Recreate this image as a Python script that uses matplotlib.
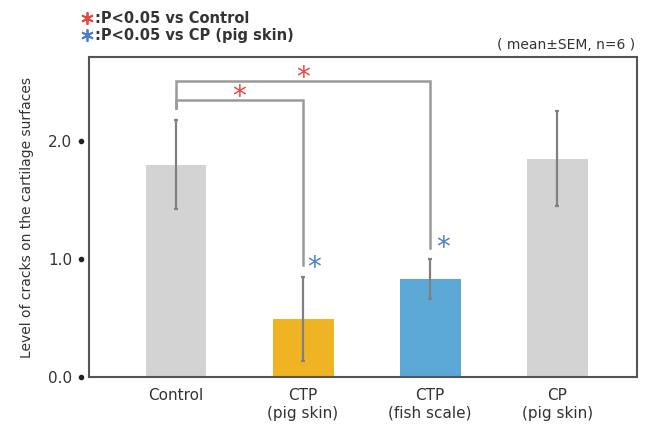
import numpy as np
import matplotlib
matplotlib.use('Agg')
import matplotlib.pyplot as plt
from matplotlib.lines import Line2D

plt.rcParams['font.family'] = ['DejaVu Sans']

groups = ['Control', 'CTP\n(pig skin)', 'CTP\n(fish scale)', 'CP\n(pig skin)']
means = [1.80, 0.49, 0.83, 1.85]
sems = [0.375, 0.355, 0.17, 0.40]
colors = ['#d3d3d3', '#f0b323', '#5ba8d7', '#d3d3d3']
yticks = [0.0, 1.0, 2.0]

# brackets: (from, to, height, left leg end, right leg end)
brackets = [(0, 1, 2.35, 2.28, 0.95), (0, 2, 2.51, 2.28, 1.09)]
red_marks = [(0.5, 2.37), (1.0, 2.535)]
blue_marks = [(1.09, 0.92), (2.10, 1.09)]

fig = plt.figure(figsize=(6.51, 4.26), dpi=100)
ax = fig.add_axes([0.1367, 0.115, 0.842, 0.751])

x = np.arange(len(groups))
ax.bar(x, means, width=0.48, color=colors, zorder=1)
ax.errorbar(x, means, yerr=sems, fmt='none', ecolor='#808080', elinewidth=1.6,
            capsize=1.5, capthick=1.6, zorder=2)

for a, b, h, l1, l2 in brackets:
    ax.plot([a, a, b, b], [l1, h, h, l2], color='#9a9a9a', lw=1.8, zorder=3,
            solid_joinstyle='miter')

for xx, yy in red_marks:
    ax.text(xx, yy, '*', color='#e8473f', fontsize=20, ha='center', va='center')
for xx, yy in blue_marks:
    ax.text(xx, yy, '*', color='#4a80c9', fontsize=20, ha='center', va='center')

ax.set_xlim(-0.685, 3.63)
ax.set_ylim(0, 2.71)
ax.set_xticks(x)
ax.set_xticklabels(groups, fontsize=11, color='#333333')
ax.set_yticks(yticks)
ax.set_yticklabels(['%.1f' % v for v in yticks], fontsize=11, color='#333333')
ax.tick_params(axis='both', length=0, pad=12)
ax.tick_params(axis='x', pad=8)
ax.plot([-0.015] * len(yticks), yticks, 'o', ms=3, color='#222222',
        transform=ax.get_yaxis_transform(), clip_on=False)
for s in ax.spines.values():
    s.set_color('#555555')
    s.set_linewidth(1.5)

ax.set_ylabel('Level of cracks on the cartilage surfaces', fontsize=10,
              color='#333333', labelpad=10)

# legend asterisks drawn as markers
for yy, c in [(0.957, '#e8473f'), (0.917, '#4a80c9')]:
    fig.add_artist(Line2D([0.134], [yy], marker=(6, 2, 0), ms=9, mew=1.3,
                          color=c, transform=fig.transFigure))
fig.text(0.146, 0.957, ':P<0.05 vs Control', fontsize=10.5, fontweight='bold',
         color='#333333', va='center')
fig.text(0.146, 0.917, ':P<0.05 vs CP (pig skin)', fontsize=10.5, fontweight='bold',
         color='#333333', va='center')
fig.text(0.976, 0.895, '( mean\u00b1SEM, n=6 )', fontsize=10, color='#333333',
         ha='right', va='center')

fig.savefig('out.png', dpi=100)
